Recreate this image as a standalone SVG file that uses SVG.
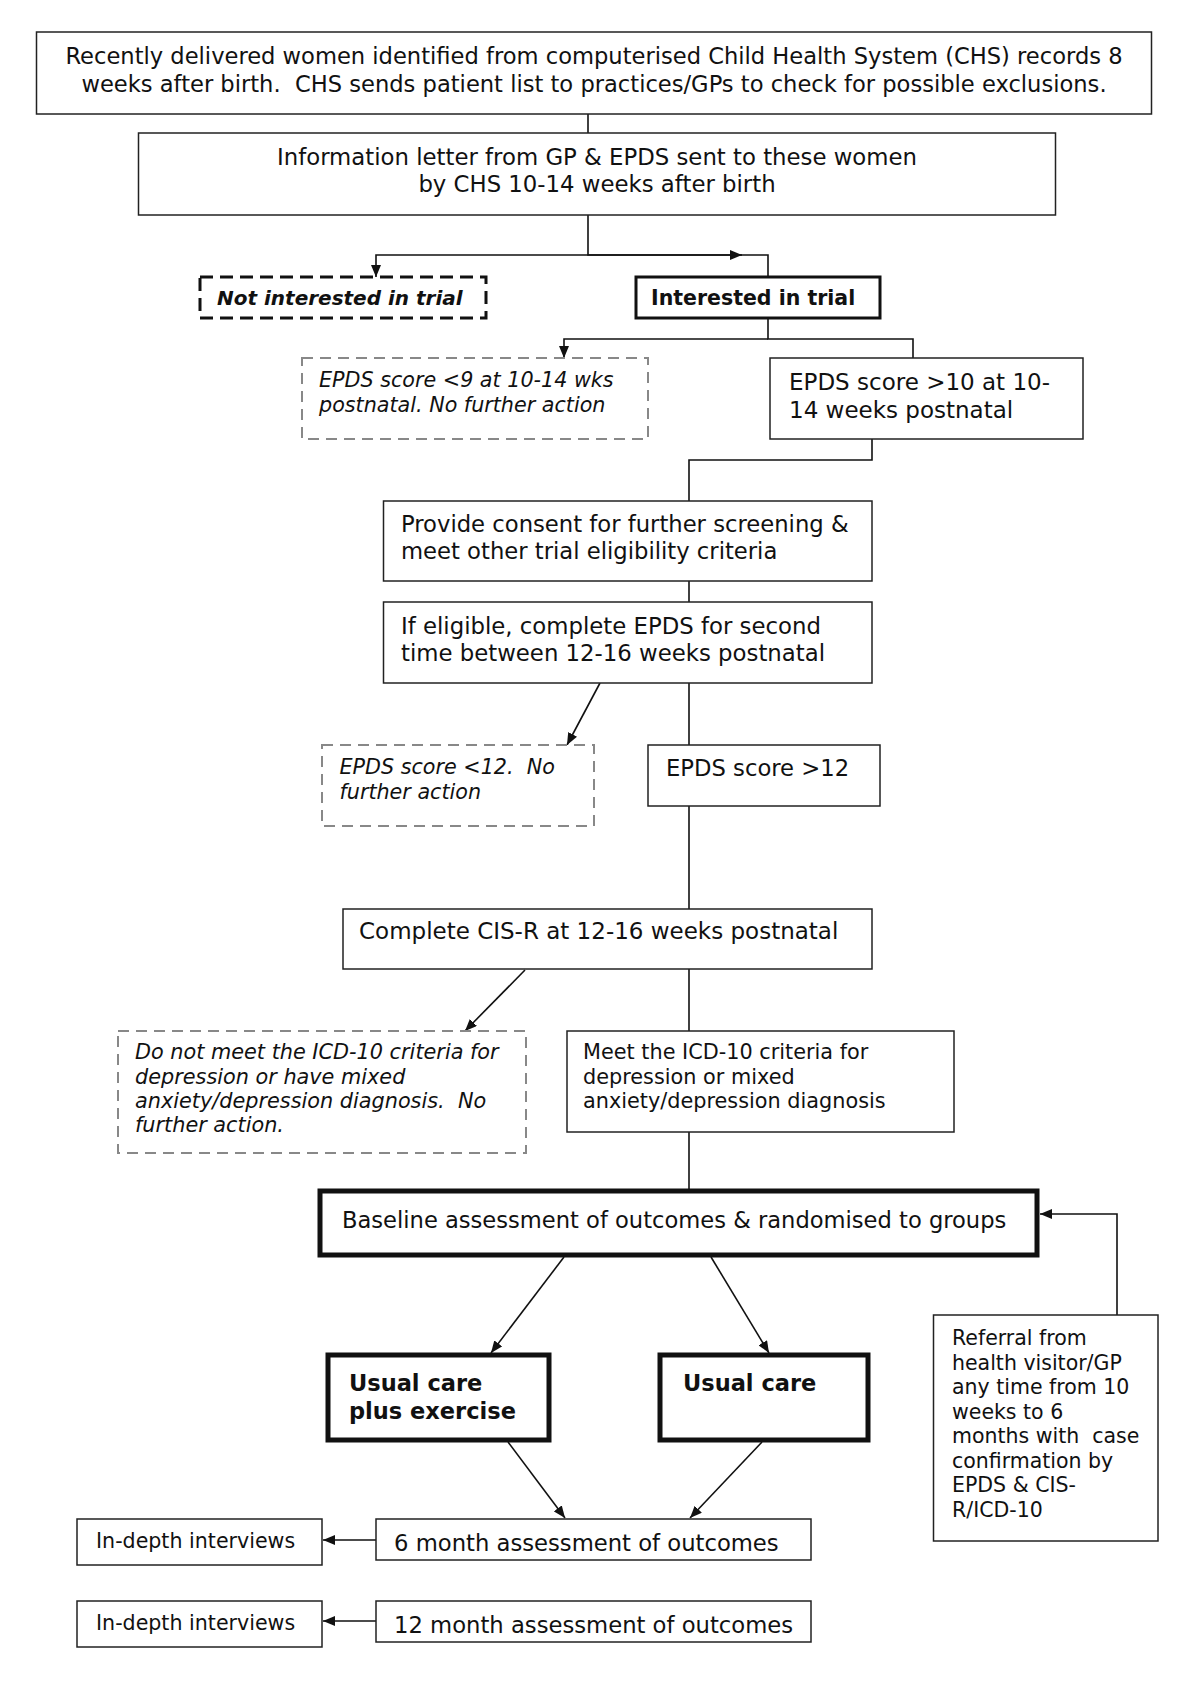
<svg xmlns="http://www.w3.org/2000/svg" width="1200" height="1684" viewBox="0 0 1200 1684">
<style>
text{font-family:"DejaVu Sans","Verdana",sans-serif;fill:#111;white-space:pre}
.b{fill:#fff;stroke:#222;stroke-width:1.5}
.t3{fill:#fff;stroke:#111;stroke-width:3}
.t5{fill:#fff;stroke:#111;stroke-width:5}
.dk{fill:#fff;stroke:#111;stroke-width:3;stroke-dasharray:13 7}
.dg{fill:#fff;stroke:#888;stroke-width:2;stroke-dasharray:11 7}
.c{fill:none;stroke:#111;stroke-width:1.6}
.it{font-style:italic}
.bd{font-weight:bold}
</style>
<defs>
<marker id="ah" viewBox="0 0 12 10" refX="12" refY="5" markerWidth="12" markerHeight="10" markerUnits="userSpaceOnUse" orient="auto">
<path d="M0,0 L12,5 L0,10 z" fill="#111"/>
</marker>
</defs>
<rect width="1200" height="1684" fill="#fff"/>
<g id="connectors">
<line class="c" x1="588" y1="114" x2="588" y2="133"/>
<path class="c" d="M588,215 V255 H768 V277"/>
<path class="c" d="M588,255 H376 V277" marker-end="url(#ah)"/>
<path class="c" d="M588,255 H742" marker-end="url(#ah)"/>
<path class="c" d="M768,318 V339 H913 V358"/>
<path class="c" d="M768,339 H564 V358" marker-end="url(#ah)"/>
<path class="c" d="M872,439 V460 H689 V501"/>
<line class="c" x1="689" y1="581" x2="689" y2="602"/>
<line class="c" x1="600" y1="683" x2="567" y2="745" marker-end="url(#ah)"/>
<line class="c" x1="689" y1="683" x2="689" y2="745"/>
<line class="c" x1="689" y1="806" x2="689" y2="909"/>
<line class="c" x1="525" y1="970" x2="465" y2="1031" marker-end="url(#ah)"/>
<line class="c" x1="689" y1="969" x2="689" y2="1031"/>
<line class="c" x1="689" y1="1132" x2="689" y2="1191"/>
<path class="c" d="M1117,1315 V1214 H1040" marker-end="url(#ah)"/>
<line class="c" x1="564" y1="1257" x2="491" y2="1353" marker-end="url(#ah)"/>
<line class="c" x1="711" y1="1257" x2="769" y2="1353" marker-end="url(#ah)"/>
<line class="c" x1="508" y1="1442" x2="565" y2="1518" marker-end="url(#ah)"/>
<line class="c" x1="762" y1="1442" x2="690" y2="1518" marker-end="url(#ah)"/>
<line class="c" x1="376" y1="1540" x2="323" y2="1540" marker-end="url(#ah)"/>
<line class="c" x1="376" y1="1621" x2="323" y2="1621" marker-end="url(#ah)"/>
</g>
<g id="n1"><rect class="b" x="36.5" y="32" width="1115" height="82" stroke="#555"/>
<text x="594" y="64" font-size="22.6" text-anchor="middle">Recently delivered women identified from computerised Child Health System (CHS) records 8</text>
<text x="594" y="92" font-size="22.6" text-anchor="middle">weeks after birth.  CHS sends patient list to practices/GPs to check for possible exclusions.</text></g>
<g id="n2"><rect class="b" x="138.5" y="133" width="917" height="82"/>
<text x="597" y="165" font-size="22.8" text-anchor="middle">Information letter from GP &amp; EPDS sent to these women</text>
<text x="597" y="192" font-size="22.8" text-anchor="middle">by CHS 10-14 weeks after birth</text></g>
<g id="n3"><rect class="dk" x="200" y="277" width="286" height="41"/>
<text x="217" y="305" font-size="20" class="it bd">Not interested in trial</text></g>
<g id="n4"><rect class="t3" x="636" y="277" width="244" height="41"/>
<text x="651" y="305" font-size="20.5" class="bd">Interested in trial</text></g>
<g id="n5"><rect class="dg" x="302" y="358" width="346" height="81"/>
<text x="319" y="387" font-size="20.7" class="it">EPDS score &lt;9 at 10-14 wks</text>
<text x="319" y="412" font-size="20.7" class="it">postnatal. No further action</text></g>
<g id="n6"><rect class="b" x="770" y="358" width="313" height="81"/>
<text x="789" y="390" font-size="23">EPDS score &gt;10 at 10-</text>
<text x="789" y="418" font-size="23">14 weeks postnatal</text></g>
<g id="n7"><rect class="b" x="383.5" y="501" width="488.5" height="80"/>
<text x="401" y="532" font-size="22.7">Provide consent for further screening &amp;</text>
<text x="401" y="559" font-size="22.7">meet other trial eligibility criteria</text></g>
<g id="n8"><rect class="b" x="383.5" y="602" width="488.5" height="81"/>
<text x="401" y="634" font-size="22.8">If eligible, complete EPDS for second</text>
<text x="401" y="661" font-size="22.8">time between 12-16 weeks postnatal</text></g>
<g id="n9"><rect class="dg" x="322" y="745" width="272" height="81"/>
<text x="339.5" y="774" font-size="20.7" class="it">EPDS score &lt;12.  No</text>
<text x="339.5" y="799" font-size="20.7" class="it">further action</text></g>
<g id="n10"><rect class="b" x="648" y="745" width="232" height="61"/>
<text x="666" y="776" font-size="22.7">EPDS score &gt;12</text></g>
<g id="n11"><rect class="b" x="343" y="909" width="529" height="60"/>
<text x="359" y="939" font-size="23">Complete CIS-R at 12-16 weeks postnatal</text></g>
<g id="n12"><rect class="dg" x="118" y="1031" width="408" height="122"/>
<text x="135" y="1059" font-size="20.8" class="it">Do not meet the ICD-10 criteria for</text>
<text x="135" y="1083.5" font-size="20.8" class="it">depression or have mixed</text>
<text x="135" y="1108" font-size="20.8" class="it">anxiety/depression diagnosis.  No</text>
<text x="135" y="1132" font-size="20.8" class="it">further action.</text></g>
<g id="n13"><rect class="b" x="567" y="1031" width="387" height="101"/>
<text x="583" y="1059" font-size="20.8">Meet the ICD-10 criteria for</text>
<text x="583" y="1083.5" font-size="20.8">depression or mixed</text>
<text x="583" y="1108" font-size="20.8">anxiety/depression diagnosis</text></g>
<g id="n14"><rect class="t5" x="320" y="1191" width="717" height="64"/>
<text x="342" y="1228" font-size="22.6">Baseline assessment of outcomes &amp; randomised to groups</text></g>
<g id="n15"><rect class="t5" x="328" y="1355" width="221" height="85"/>
<text x="349" y="1391" font-size="22.5" class="bd">Usual care</text>
<text x="349" y="1419" font-size="22.5" class="bd">plus exercise</text></g>
<g id="n16"><rect class="t5" x="660" y="1355" width="208" height="85"/>
<text x="683" y="1391" font-size="22.5" class="bd">Usual care</text></g>
<g id="n17"><rect class="b" x="933.5" y="1315" width="224.5" height="226"/>
<text font-size="20.5"><tspan x="952" y="1345">Referral from</tspan><tspan x="952" y="1369.5">health visitor/GP</tspan><tspan x="952" y="1394">any time from 10</tspan><tspan x="952" y="1418.5">weeks to 6</tspan><tspan x="952" y="1443">months with  case</tspan><tspan x="952" y="1467.5">confirmation by</tspan><tspan x="952" y="1492">EPDS &amp; CIS-</tspan><tspan x="952" y="1516.5">R/ICD-10</tspan></text></g>
<g id="n18"><rect class="b" x="376" y="1519" width="435" height="41"/>
<text x="394" y="1551" font-size="22.7">6 month assessment of outcomes</text></g>
<g id="n19"><rect class="b" x="77" y="1519" width="245" height="46"/>
<text x="96" y="1548" font-size="20.6">In-depth interviews</text></g>
<g id="n20"><rect class="b" x="376" y="1601" width="435" height="41"/>
<text x="394" y="1633" font-size="22.7">12 month assessment of outcomes</text></g>
<g id="n21"><rect class="b" x="77" y="1601" width="245" height="46"/>
<text x="96" y="1630" font-size="20.6">In-depth interviews</text></g>
</svg>
